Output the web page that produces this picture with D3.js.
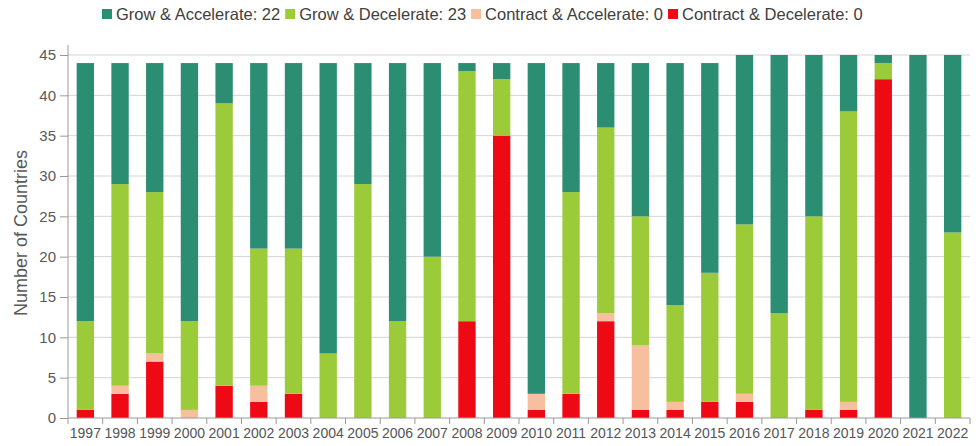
<!DOCTYPE html>
<html>
<head>
<meta charset="utf-8">
<script src="https://cdn.jsdelivr.net/npm/d3@7"></script>
<style>
	body { margin: 0; background: #fff; }
	svg { display: block; font-family: "Liberation Sans", Arial, sans-serif; }
</style>
</head>
<body>
<div id="chart"></div>
<script>
	//
	// Data
	//
	let years = ['1997','1998','1999','2000','2001','2002','2003','2004','2005','2006','2007','2008','2009',
		'2010','2011','2012','2013','2014','2015','2016','2017','2018','2019','2020','2021','2022'];
	let contractDecelerate = [1,3,7,0,4,2,3,0,0,0,0,12,35,1,3,12,1,1,2,2,0,1,1,42,0,0];
	let contractAccelerate = [0,1,1,1,0,2,0,0,0,0,0,0,0,2,0,1,8,1,0,1,0,0,1,0,0,0];
	let growDecelerate     = [11,25,20,11,35,17,18,8,29,12,20,31,7,0,25,23,16,12,16,21,13,24,36,2,0,23];
	let growAccelerate     = [32,15,16,32,5,23,23,36,15,32,24,1,2,41,16,8,19,30,26,21,32,20,7,1,45,22];
	let yTicks = [0,5,10,15,20,25,30,35,40,45];

	let series = [
		{ key: 'cd', name: 'Contract & Decelerate', values: contractDecelerate, color: '#ee0a14' },
		{ key: 'ca', name: 'Contract & Accelerate', values: contractAccelerate, color: '#f7bf9e' },
		{ key: 'gd', name: 'Grow & Decelerate',     values: growDecelerate,     color: '#9ccb3a' },
		{ key: 'ga', name: 'Grow & Accelerate',     values: growAccelerate,     color: '#2b8d72' }
	];

	var svg_width = 979,
		svg_height = 446;
	var plotLeft = 68, plotRight = 970, plotTop = 55, plotBottom = 418;

	var table = years.map(function(yr, i) {
		var row = { year: yr };
		series.forEach(function(s) { row[s.key] = s.values[i]; });
		return row;
	});

	var stacked = d3.stack().keys(series.map(function(s) { return s.key; }))(table);

	var x = d3.scaleBand()
		.domain(years)
		.range([plotLeft, plotRight])
		.paddingInner(0.5)
		.paddingOuter(0.25);

	var y = d3.scaleLinear()
		.domain([0, 45])
		.range([plotBottom, plotTop]);

	var svg = d3.select("#chart").append("svg")
		.attr("width", svg_width)
		.attr("height", svg_height);

	// grid
	svg.append("g")
		.selectAll("line")
		.data(yTicks.slice(1))
		.enter()
		.append("line")
		.attr("x1", plotLeft).attr("x2", plotRight)
		.attr("y1", function(d) { return y(d); })
		.attr("y2", function(d) { return y(d); })
		.style("stroke", "#d4d4d4")
		.style("stroke-width", 1);

	// bars
	var colorByKey = {};
	series.forEach(function(s) { colorByKey[s.key] = s.color; });

	svg.append("g")
		.selectAll("g")
		.data(stacked)
		.enter()
		.append("g")
		.style("fill", function(d) { return colorByKey[d.key]; })
		.selectAll("rect")
		.data(function(d) { return d; })
		.enter()
		.append("rect")
		.attr("x", function(d) { return x(d.data.year); })
		.attr("width", x.bandwidth())
		.attr("y", function(d) { return y(d[1]); })
		.attr("height", function(d) { return y(d[0]) - y(d[1]); });

	// y axis
	var yAxis = svg.append("g")
		.attr("transform", "translate(" + plotLeft + ",0)")
		.call(d3.axisLeft(y).tickValues(yTicks).tickSize(8).tickPadding(4));
	yAxis.select(".domain").attr("d", "M0," + (plotTop - 10) + "V" + plotBottom).style("stroke", "#999");
	yAxis.selectAll(".tick line").style("stroke", "#999");
	yAxis.selectAll(".tick text")
		.style("font-size", "15px")
		.style("fill", "#595959");

	// x axis
	var xAxis = svg.append("g")
		.attr("transform", "translate(0," + plotBottom + ")")
		.call(d3.axisBottom(x).tickSize(0).tickPadding(10));
	xAxis.select(".domain").attr("d", "M" + plotLeft + ",0H" + plotRight).style("stroke", "#999");
	xAxis.selectAll(".tick text")
		.style("font-size", "14px")
		.style("fill", "#555");

	var half = (x.step() - x.bandwidth()) / 2;
	var bounds = years.map(function(yr) { return x(yr) - half; })
		.concat([x(years[years.length - 1]) + x.bandwidth() + half]);
	svg.append("g")
		.selectAll("line")
		.data(bounds)
		.enter()
		.append("line")
		.attr("x1", function(d) { return d; })
		.attr("x2", function(d) { return d; })
		.attr("y1", plotBottom)
		.attr("y2", plotBottom + 6)
		.style("stroke", "#999");

	// y label
	svg.append("text")
		.attr("transform", "translate(27,233) rotate(-90)")
		.attr("text-anchor", "middle")
		.style("font-size", "18px")
		.style("fill", "#595959")
		.text("Number of Countries");

	// legend
	var legendOrder = [series[3], series[2], series[1], series[0]];
	var legend = svg.append("g").attr("transform", "translate(102,14)");
	var lx = 0;
	legendOrder.forEach(function(s) {
		var last = s.values[s.values.length - 1];
		legend.append("rect")
			.attr("x", lx).attr("y", -5)
			.attr("width", 10).attr("height", 10)
			.style("fill", s.color);
		var t = legend.append("text")
			.attr("x", lx + 14)
			.attr("y", 6)
			.style("font-size", "16.5px")
			.style("fill", "#404040")
			.text(s.name + ": " + last);
		lx += 14 + t.node().getComputedTextLength() + 5;
	});
</script>
</body>
</html>
